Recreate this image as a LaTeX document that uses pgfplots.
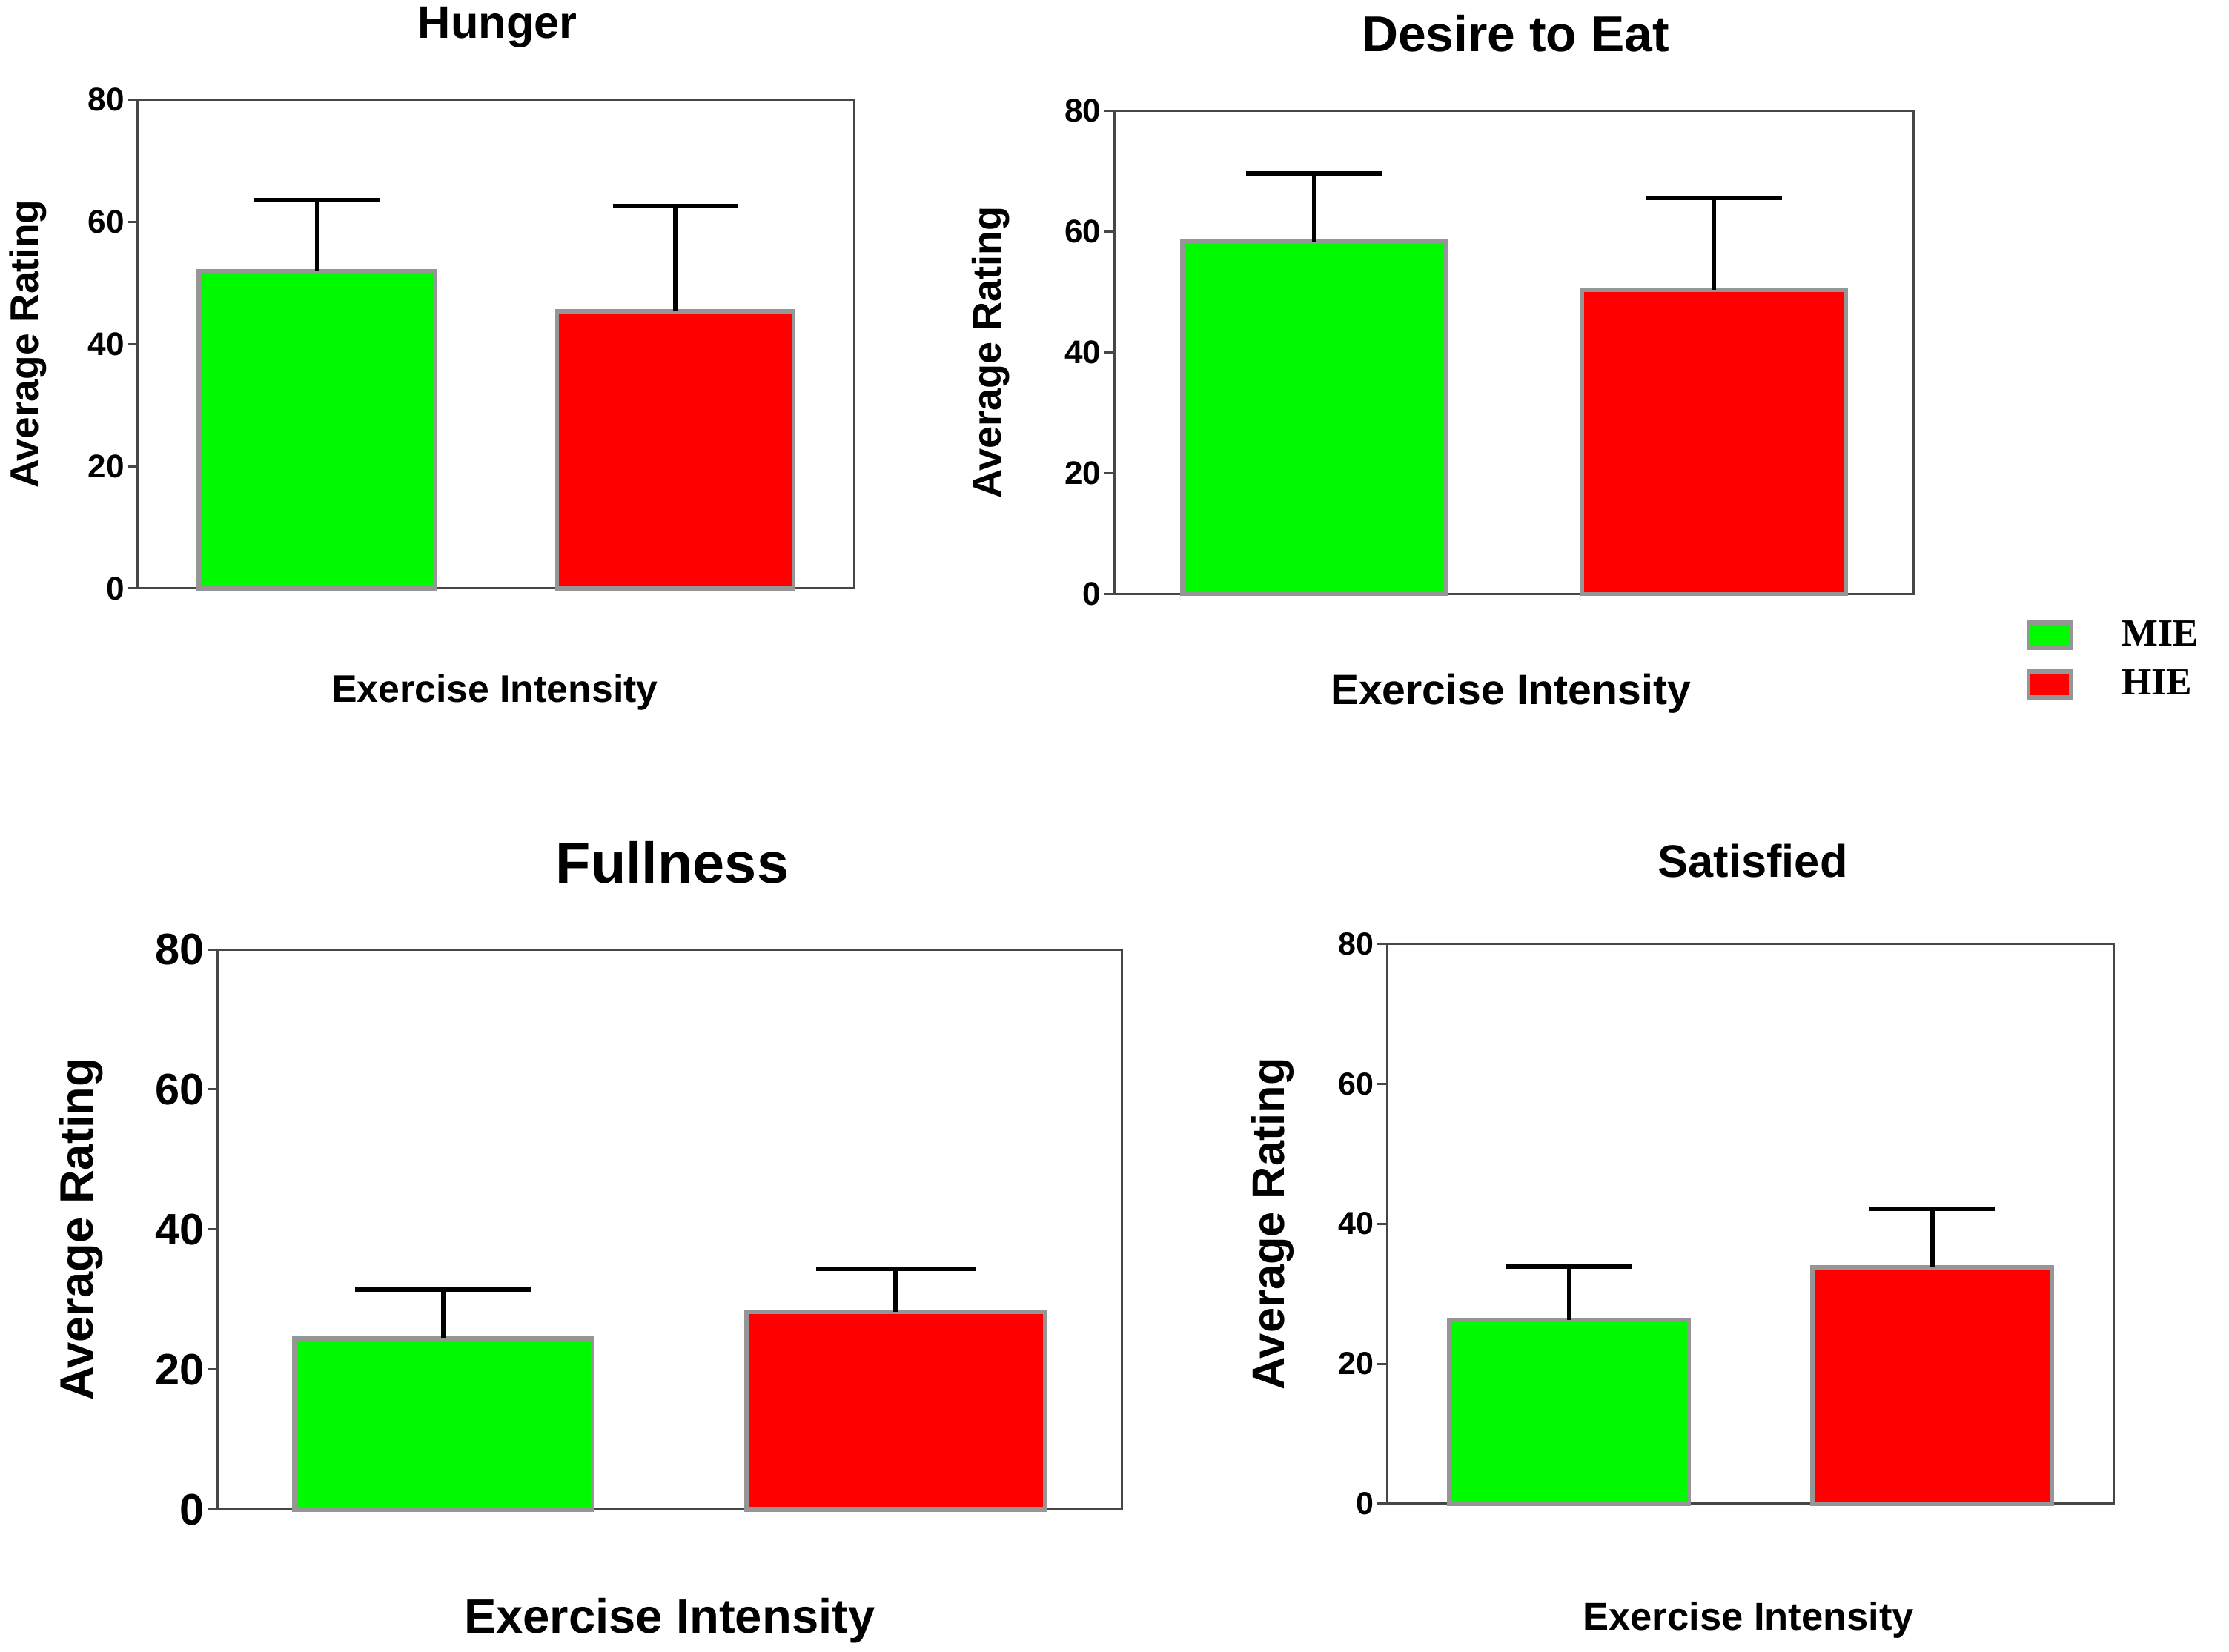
\documentclass[border=0pt]{standalone}
\usepackage{fontspec}
\setmainfont{Liberation Sans}
\newfontfamily\serifb{Liberation Serif}
\usepackage{pgfplots}
\pgfplotsset{compat=1.18}
\definecolor{mygreen}{RGB}{0,250,0}
\definecolor{myred}{RGB}{255,0,0}
\definecolor{borderc}{RGB}{150,150,150}
\definecolor{axisc}{RGB}{70,70,70}
\pgfplotsset{
  panel/.style={
    scale only axis, anchor=south west,
    ymin=0, ymax=80, ytick={0,20,40,60,80},
    xmin=-0.5, xmax=1.5, xtick=\empty,
    ytick pos=left, tick align=outside, major tick length=3.5pt,
    axis line style={draw=axisc, line width=0.8pt},
    every tick/.style={draw=axisc, line width=0.8pt},
    /pgf/number format/assume math mode=true,
    clip=false,
    ylabel={Average Rating}, xlabel={Exercise Intensity},
    yticklabel style={inner sep=1pt},
  },
  gbar/.style={ybar, bar shift=0pt, bar width=0.66, fill=mygreen, draw=borderc, line width=1.5pt,
    error bars/.cd, y dir=plus, y explicit, error mark=|,
    error bar style={black, line width=1.5pt},
    error mark options={black, line width=1.5pt, mark size=#1}},
  rbar/.style={ybar, bar shift=0pt, bar width=0.66, fill=myred, draw=borderc, line width=1.5pt,
    error bars/.cd, y dir=plus, y explicit, error mark=|,
    error bar style={black, line width=1.5pt},
    error mark options={black, line width=1.5pt, mark size=#1}},
}
\begin{document}
\begin{tikzpicture}
\useasboundingbox (0,0) rectangle (784pt,581pt);
% Hunger
\begin{axis}[panel, at={(48.5pt,374pt)}, width=252pt, height=172pt,
  title={Hunger},
  title style={at={(axis description cs:0.502,1.113)}, anchor=center, font=\bfseries\fontsize{16}{18}\selectfont},
  ylabel style={at={(axis description cs:-0.153,0.5)}, anchor=center, font=\bfseries\fontsize{13.9}{16}\selectfont},
  xlabel style={at={(axis description cs:0.498,-0.212)}, anchor=center, font=\bfseries\fontsize{13.5}{16}\selectfont},
  yticklabel style={font=\bfseries\fontsize{11.5}{13}\selectfont},
]
\addplot[gbar=22pt] coordinates {(0,51.9) +- (0,11.7)};
\addplot[rbar=22pt] coordinates {(1,45.3) +- (0,17.3)};
\end{axis}
% Desire to Eat
\begin{axis}[panel, at={(392pt,372pt)}, width=281pt, height=170pt,
  title={Desire to Eat},
  title style={at={(axis description cs:0.502,1.124)}, anchor=center, font=\bfseries\fontsize{17.7}{20}\selectfont},
  ylabel style={at={(axis description cs:-0.155,0.5)}, anchor=center, font=\bfseries\fontsize{14.1}{16}\selectfont},
  xlabel style={at={(axis description cs:0.496,-0.206)}, anchor=center, font=\bfseries\fontsize{14.9}{17}\selectfont},
  yticklabel style={font=\bfseries\fontsize{11.5}{13}\selectfont},
  legend style={at={(axis description cs:1.13,-0.03)}, anchor=north west, draw=none, fill=none,
    font=\serifb\bfseries\fontsize{13.5}{15}\selectfont, row sep=3pt,
    /tikz/every odd column/.append style={column sep=15pt}},
  legend cell align=left,
]
\addplot[legend image code/.code={\draw[fill=mygreen, draw=borderc, line width=1.5pt] (0pt,-4.5pt) rectangle (15pt,4.5pt);}, gbar=24pt] coordinates {(0,58.4) +- (0,11.2)};
\addplot[legend image code/.code={\draw[fill=myred, draw=borderc, line width=1.5pt] (0pt,-4.5pt) rectangle (15pt,4.5pt);}, rbar=24pt] coordinates {(1,50.4) +- (0,15.2)};
\legend{MIE,HIE}
\end{axis}
% Fullness
\begin{axis}[panel, at={(76.5pt,50pt)}, width=318pt, height=197pt,
  title={Fullness},
  title style={at={(axis description cs:0.503,1.125)}, anchor=center, font=\bfseries\fontsize{20.2}{23}\selectfont},
  ylabel style={at={(axis description cs:-0.151,0.5)}, anchor=center, font=\bfseries\fontsize{16.5}{19}\selectfont},
  xlabel style={at={(axis description cs:0.50,-0.198)}, anchor=center, font=\bfseries\fontsize{17}{20}\selectfont},
  yticklabel style={font=\bfseries\fontsize{15.5}{17}\selectfont},
]
\addplot[gbar=31pt] coordinates {(0,24.4) +- (0,7.0)};
\addplot[rbar=28pt] coordinates {(1,28.2) +- (0,6.2)};
\end{axis}
% Satisfied
\begin{axis}[panel, at={(488pt,52pt)}, width=255.5pt, height=197pt,
  title={Satisfied},
  title style={at={(axis description cs:0.503,1.117)}, anchor=center, font=\bfseries\fontsize{16}{18}\selectfont},
  ylabel style={at={(axis description cs:-0.158,0.5)}, anchor=center, font=\bfseries\fontsize{16}{18}\selectfont},
  xlabel style={at={(axis description cs:0.497,-0.208)}, anchor=center, font=\bfseries\fontsize{13.7}{16}\selectfont},
  yticklabel style={font=\bfseries\fontsize{11.2}{13}\selectfont},
]
\addplot[gbar=22pt] coordinates {(0,26.3) +- (0,7.6)};
\addplot[rbar=22pt] coordinates {(1,33.8) +- (0,8.3)};
\end{axis}
\end{tikzpicture}
\end{document}
